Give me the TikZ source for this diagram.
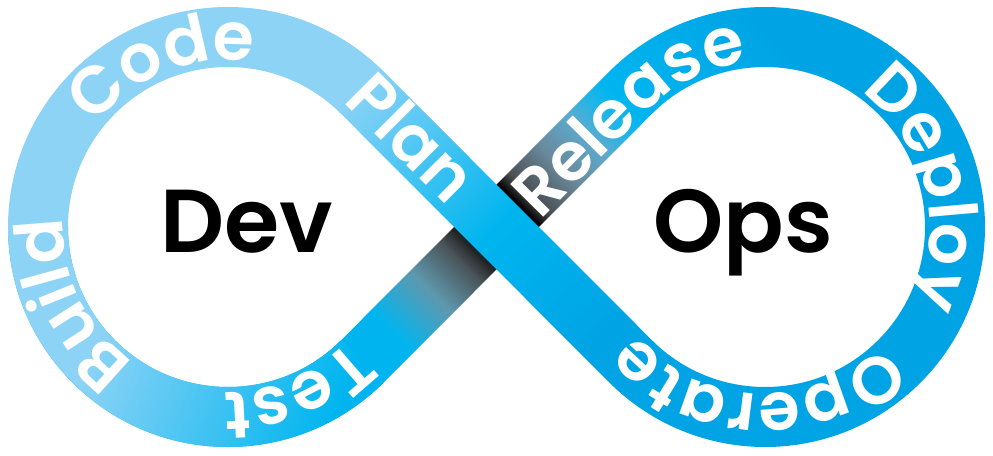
\documentclass[tikz,border=0pt]{standalone}
\usepackage{fontspec}
\usetikzlibrary{decorations.text}
\newfontfamily\bandfont[LetterSpace=7]{Poppins SemiBold}
\newfontfamily\widefont[LetterSpace=9]{Poppins SemiBold}
\newfontfamily\corefont{Poppins SemiBold}
\definecolor{lightblue}{HTML}{8DD3F6}
\definecolor{midblue}{HTML}{00B5EF}
\definecolor{deepblue}{HTML}{00A3E4}
\definecolor{slatea}{HTML}{5F98AE}
\definecolor{slateb}{HTML}{4A5459}
\definecolor{slatec}{HTML}{101010}
\definecolor{slated}{HTML}{2A2A2A}
\definecolor{slatee}{HTML}{4A5054}
\definecolor{slatef}{HTML}{6A8A9C}
\definecolor{slateg}{HTML}{5BABD0}
\definecolor{slateh}{HTML}{20B5E8}
\pgfdeclarehorizontalshading{topband}{100bp}{color(0bp)=(lightblue); color(43.75bp)=(lightblue); color(50bp)=(midblue); color(55bp)=(deepblue); color(100bp)=(deepblue)}
\pgfdeclarehorizontalshading{buildband}{100bp}{color(0bp)=(lightblue); color(47.5bp)=(lightblue); color(55.3bp)=(midblue); color(100bp)=(midblue)}
\pgfdeclarehorizontalshading{crossband}{100bp}{color(0bp)=(midblue); color(45.375bp)=(midblue); color(47.125bp)=(slatea); color(48.44bp)=(slateb); color(49.22bp)=(slatec); color(50bp)=(black); color(50.97bp)=(black); color(51.22bp)=(slated); color(51.47bp)=(slatee); color(52.75bp)=(slatef); color(54.06bp)=(slateg); color(54.875bp)=(slateh); color(55.53bp)=(midblue); color(60.6bp)=(deepblue); color(100bp)=(deepblue)}
\tikzset{
	bandtext/.style={decorate,decoration={text along path,text align=center,text={|\bandfont\fontsize{50}{50}\selectfont\color{white}|#1}}},
	widetext/.style={decorate,decoration={text along path,text align=center,text={|\widefont\fontsize{50}{50}\selectfont\color{white}|#1}}},
	corelabel/.style={anchor=base,inner sep=0,outer sep=0,font=\corefont\fontsize{67}{67}\selectfont}
}
\begin{document}
\begin{tikzpicture}[x=0.75pt,y=0.75pt]
	\useasboundingbox (0,0) rectangle (993,455);
	\coordinate (L) at (228,228);
	\coordinate (R) at (765,228);
	\coordinate (X) at (496.5,228);
	\begin{scope}
		\clip ([shift={(L)}]180:220) arc[start angle=180,end angle=315,radius=220] -- ([shift={(R)}]135:160) arc[start angle=135,end angle=0,radius=160] -- ([shift={(R)}]0:220) arc[start angle=0,end angle=135,radius=220] -- ([shift={(L)}]315:160) arc[start angle=315,end angle=180,radius=160] -- cycle;
		\shade[shading=crossband,transform canvas={rotate around={45:(X)}}] ([shift={(X)}]-800,-800) rectangle ([shift={(X)}]800,800);
	\end{scope}
	\begin{scope}
		\clip ([shift={(L)}]180:220) arc[start angle=180,end angle=315,radius=220] -- ([shift={(L)}]315:160) arc[start angle=315,end angle=180,radius=160] -- cycle;
		\shade[shading=buildband,transform canvas={rotate around={-22:(L)}}] ([shift={(L)}]-800,-800) rectangle ([shift={(L)}]800,800);
	\end{scope}
	\begin{scope}
		\clip ([shift={(L)}]180:220) arc[start angle=180,end angle=45,radius=220] -- ([shift={(R)}]225:160) arc[start angle=225,end angle=360,radius=160] -- ([shift={(R)}]0:220) arc[start angle=0,end angle=-135,radius=220] -- ([shift={(L)}]45:160) arc[start angle=45,end angle=180,radius=160] -- cycle;
		\shade[shading=topband,transform canvas={rotate around={-45:(X)}}] ([shift={(X)}]-800,-800) rectangle ([shift={(X)}]800,800);
	\end{scope}
	\path[bandtext=Code] ([shift={(L)}]160:167) arc[start angle=160,end angle=64,radius=167];
	\path[bandtext=Build] ([shift={(L)}]255:165) arc[start angle=255,end angle=157,radius=165];
	\path[bandtext=Test] ([shift={(L)}]-18:165) arc[start angle=-18,end angle=-116,radius=165];
	\path[bandtext=Plan] (295,401) -- (495,201);
	\path[bandtext=Deploy] ([shift={(R)}]81.5:165) arc[start angle=81.5,end angle=-53.5,radius=165];
	\path[widetext=Operate] ([shift={(R)}]-22.5:167) arc[start angle=-22.5,end angle=-162.5,radius=167];
	\path[decorate,decoration={text along path,text align=left,text={|\bandfont\fontsize{50}{50}\selectfont\color{white}|Release}}] (540,235) -- ([shift={(R)}]135:165) arc[start angle=135,end angle=60,radius=165];
	\node[corelabel] (dev) at (246.5,203) {Dev};
	\node[corelabel] (ops) at (743.5,203) {Ops};
\end{tikzpicture}
\end{document}
